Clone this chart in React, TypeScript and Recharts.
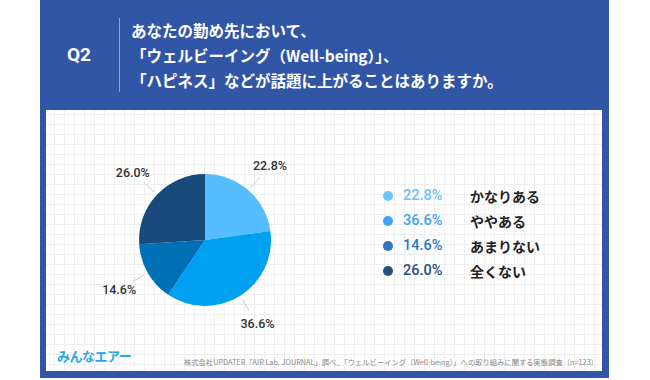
import React from "react";
import { PieChart, Pie, Cell, Legend } from "recharts";

const categories = ["かなりある", "ややある", "あまりない", "全くない"];
const values = [22.8, 36.6, 14.6, 26.0];
const pieColors = ["#56BEFF", "#00A0F0", "#0070B6", "#184A7C"];
const legendColors = ["#6EC3F7", "#3DA3F2", "#2D77BC", "#22507F"];
const titleLines = [
  "あなたの勤め先において、",
  "「ウェルビーイング（Well-being）」、",
  "「ハピネス」などが話題に上がることはありますか。",
];
const sourceText =
  "株式会社UPDATER「AIR Lab. JOURNAL」調べ_「ウェルビーイング（Well-being）」への取り組みに関する実態調査（n=123）";

const data = categories.map((name, i) => ({ name, value: values[i] }));

const JP = '"Noto Sans CJK JP", "Noto Sans", sans-serif';
const NUM = 'Roboto, "Liberation Sans", Arial, sans-serif';
const RAD = Math.PI / 180;

const renderLabel = (props: any) => {
  const { cx, cy, midAngle, outerRadius, value, index } = props;
  const c = Math.cos(-midAngle * RAD);
  const s = Math.sin(-midAngle * RAD);
  const r1 = outerRadius + 4;
  const r2 = outerRadius + 17;
  const rt = outerRadius + 33;
  return (
    <g key={`lbl-${index}`}>
      <line
        x1={cx + r1 * c}
        y1={cy + r1 * s}
        x2={cx + r2 * c}
        y2={cy + r2 * s}
        stroke="#c8c8c8"
        strokeWidth={1}
      />
      <text
        x={cx + rt * c}
        y={cy + rt * s}
        textAnchor="middle"
        dominantBaseline="central"
        fill="#333"
        fontSize={12.5}
        fontWeight={500}
        fontFamily={NUM}
      >
        {`${Number(value).toFixed(1)}%`}
      </text>
    </g>
  );
};

const renderLegend = (props: any) => {
  const payload: any[] = props.payload || [];
  return (
    <div style={{ display: "flex", flexDirection: "column" }}>
      {payload.map((entry: any, i: number) => {
        const name = entry?.value ?? categories[i];
        const idx = categories.indexOf(name) >= 0 ? categories.indexOf(name) : i;
        const v = entry?.payload?.value ?? values[idx];
        return (
          <div
            key={`leg-${i}`}
            style={{ height: 25, display: "flex", alignItems: "center", position: "relative" }}
          >
            <span
              style={{
                width: 10,
                height: 10,
                borderRadius: "50%",
                background: legendColors[idx],
                display: "inline-block",
              }}
            />
            <span
              style={{
                position: "absolute",
                left: 20,
                color: legendColors[idx],
                fontFamily: NUM,
                fontWeight: 500,
                fontSize: 14.5,
              }}
            >
              {`${Number(v).toFixed(1)}%`}
            </span>
            <span
              style={{
                position: "absolute",
                left: 87,
                color: "#222",
                fontFamily: JP,
                fontWeight: 700,
                fontSize: 14,
                whiteSpace: "nowrap",
              }}
            >
              {name}
            </span>
          </div>
        );
      })}
    </div>
  );
};

export default function App() {
  return (
    <div
      style={{
        position: "absolute",
        left: 0,
        top: 0,
        width: 650,
        height: 380,
        background: "#fff",
        overflow: "hidden",
        fontFamily: JP,
      }}
    >
      <div
        style={{
          position: "absolute",
          left: 40,
          top: 0,
          width: 569,
          height: 378,
          background: "#3256A6",
        }}
      />
      <div
        style={{
          position: "absolute",
          left: 67,
          top: 43,
          color: "#fff",
          fontFamily: NUM,
          fontWeight: 700,
          fontSize: 19,
          lineHeight: "24px",
        }}
      >
        Q2
      </div>
      <div
        style={{
          position: "absolute",
          left: 119,
          top: 18,
          width: 1,
          height: 74,
          background: "rgba(255,255,255,0.45)",
        }}
      />
      <div
        style={{
          position: "absolute",
          left: 131,
          top: 18,
          color: "#fff",
          fontFamily: JP,
          fontWeight: 700,
          fontSize: 15.5,
          lineHeight: "25px",
          whiteSpace: "nowrap",
        }}
      >
        {titleLines.map((t, i) => (
          <div key={i}>{t}</div>
        ))}
      </div>
      <div
        style={{
          position: "absolute",
          left: 46,
          top: 110,
          width: 556,
          height: 261,
          backgroundColor: "#fff",
          backgroundImage:
            "linear-gradient(to right, #eeeeee 1px, transparent 1px), linear-gradient(to bottom, #eeeeee 1px, transparent 1px)",
          backgroundSize: "10px 10px",
          backgroundPosition: "8px 4px",
        }}
      >
        <PieChart width={556} height={261} margin={{ top: 0, right: 0, bottom: 0, left: 0 }}>
          <Pie
            data={data}
            dataKey="value"
            nameKey="name"
            cx={159}
            cy={130}
            outerRadius={66}
            startAngle={90}
            endAngle={-270}
            stroke="none"
            label={renderLabel}
            labelLine={false}
            isAnimationActive={false}
          >
            {data.map((d, i) => (
              <Cell key={d.name} fill={pieColors[i]} />
            ))}
          </Pie>
          <Legend
            layout="vertical"
            align="center"
            verticalAlign="middle"
            itemSorter={(item: any) => categories.indexOf(item?.value)}
            content={renderLegend}
            wrapperStyle={{ left: 337, top: 73, width: 200 }}
          />
        </PieChart>
        <div
          style={{
            position: "absolute",
            left: 11,
            top: 236,
            color: "#2AA8E6",
            fontFamily: JP,
            fontWeight: 700,
            fontSize: 13,
            letterSpacing: "-0.5px",
            whiteSpace: "nowrap",
          }}
        >
          みんなエアー
        </div>
        <div
          style={{
            position: "absolute",
            right: 4,
            top: 247,
            color: "#888",
            fontFamily: JP,
            fontSize: 7.3,
            whiteSpace: "nowrap",
          }}
        >
          {sourceText}
        </div>
      </div>
    </div>
  );
}
